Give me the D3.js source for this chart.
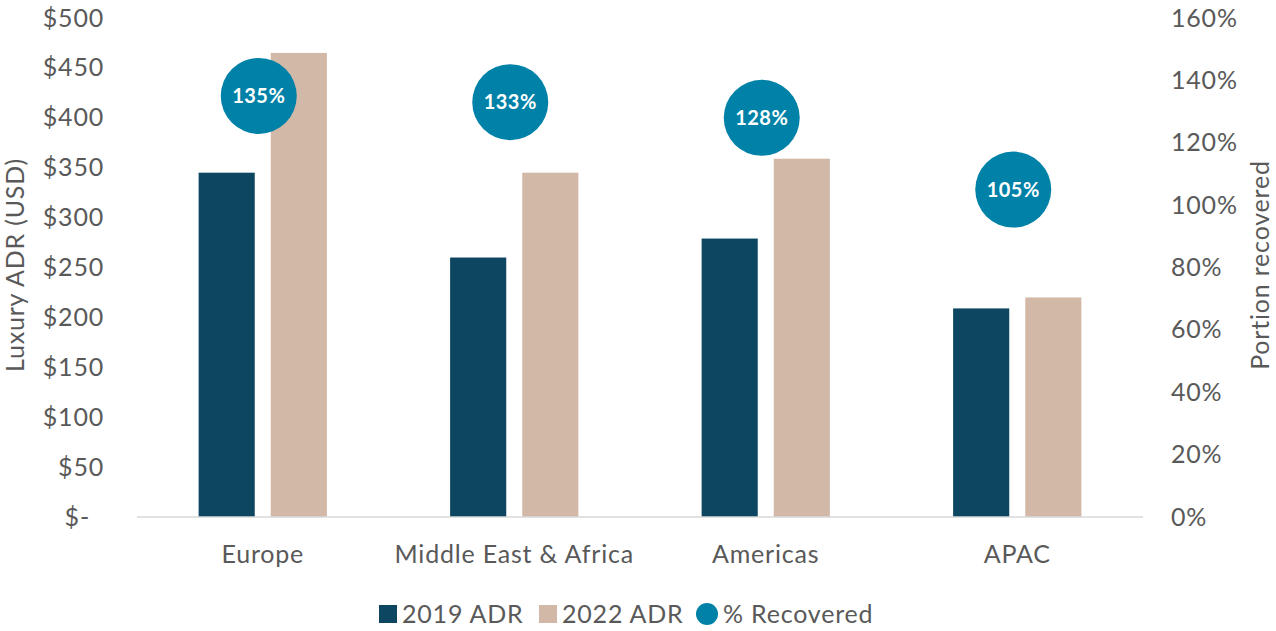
<!DOCTYPE html>
<html><head><meta charset="utf-8">
<script src="https://cdn.jsdelivr.net/npm/d3@7"></script>
<style>
body{margin:0;background:#fff;}
svg{display:block;font-family:"Source Sans Pro","Lato","Open Sans",sans-serif;}
.t{font-size:25px;letter-spacing:0.8px;fill:#595959;}
</style></head>
<body>
<svg id="chart" width="1276" height="631"></svg>
<script>
const categories = ["Europe", "Middle East & Africa", "Americas", "APAC"];
const series = ["2019 ADR", "2022 ADR"];
const adr2019 = [345, 260, 279, 209];
const adr2022 = [465, 345, 359, 220];
const recovered = [135, 133, 128, 105];
const leftTicks = [0, 50, 100, 150, 200, 250, 300, 350, 400, 450, 500];
const rightTicks = [0, 20, 40, 60, 80, 100, 120, 140, 160];
const colors = {"2019 ADR": "#0d4660", "2022 ADR": "#d2b8a7", rec: "#0081a7"};

(function () {
const svg = d3.select("#chart");
const pLeft = 137, pRight = 1143, pTop = 18, pBottom = 517;

const x0 = d3.scaleBand().domain(categories).range([pLeft, pRight]).paddingInner(0.49).paddingOuter(0.245);
const x1 = d3.scaleBand().domain(series).range([0, x0.bandwidth()]).paddingInner(0.222);
const yL = d3.scaleLinear().domain([0, 500]).range([pBottom, pTop]);
const yR = d3.scaleLinear().domain([0, 160]).range([pBottom, pTop]);

const rows = categories.map((c, i) => ({cat: c, vals: [
  {s: "2019 ADR", v: adr2019[i]}, {s: "2022 ADR", v: adr2022[i]}], rec: recovered[i]}));

// bars
const g = svg.append("g");
g.selectAll("g.cat").data(rows).join("g").attr("class", "cat")
  .attr("transform", d => `translate(${x0(d.cat)},0)`)
  .selectAll("rect").data(d => d.vals).join("rect")
  .attr("x", d => x1(d.s)).attr("width", x1.bandwidth())
  .attr("y", d => yL(d.v)).attr("height", d => yL(0) - yL(d.v))
  .attr("fill", d => colors[d.s]);

// baseline
svg.append("line").attr("x1", pLeft).attr("x2", pRight).attr("y1", pBottom).attr("y2", pBottom)
  .attr("stroke", "#d9d9d9").attr("stroke-width", 1.5);

// left axis
const fmtL = v => v === 0 ? "$-" : "$" + v;
const axL = svg.append("g").attr("transform", `translate(104,0)`)
  .call(d3.axisLeft(yL).tickValues(leftTicks).tickFormat(fmtL).tickSize(0).tickPadding(0));
axL.select(".domain").remove();
axL.attr("font-family", null).attr("font-size", null);
axL.selectAll("text").attr("class", "t").attr("fill", null);
axL.selectAll("g.tick").filter(d => d === 0).select("text").attr("dx", "-14");

// right axis
const axR = svg.append("g").attr("transform", `translate(1171,0)`)
  .call(d3.axisRight(yR).tickValues(rightTicks).tickFormat(v => v + "%").tickSize(0).tickPadding(0));
axR.select(".domain").remove();
axR.attr("font-family", null).attr("font-size", null);
axR.selectAll("text").attr("class", "t").attr("fill", null);

// category labels
svg.append("g").selectAll("text").data(categories).join("text").attr("class", "t")
  .attr("x", d => x0(d) + x0.bandwidth() / 2).attr("y", 563)
  .attr("text-anchor", "middle").text(d => d);

// axis titles
svg.append("text").attr("class", "t").attr("transform", "translate(24,265) rotate(-90)").attr("text-anchor", "middle")
  .text("Luxury ADR (USD)");
svg.append("text").attr("class", "t").attr("transform", "translate(1269,265) rotate(-90)").attr("text-anchor", "middle")
  .text("Portion recovered");

// recovered circles
const cg = svg.append("g").selectAll("g").data(rows).join("g")
  .attr("transform", d => `translate(${x0(d.cat) + x0.bandwidth() / 2 - 4},${yR(d.rec)})`);
cg.append("circle").attr("r", 38).attr("fill", colors.rec);
cg.append("text").attr("text-anchor", "middle").attr("dy", "0.36em").attr("fill", "#fff")
  .style("font-size", "20px").style("font-weight", "bold").style("letter-spacing", "0.5px").text(d => d.rec + "%");

// legend
const leg = svg.append("g");
const legItems = [
  {label: "2019 ADR", type: "rect", color: colors["2019 ADR"], x: 379},
  {label: "2022 ADR", type: "rect", color: colors["2022 ADR"], x: 539},
  {label: "% Recovered", type: "circle", color: colors.rec, x: 696}
];
legItems.forEach(it => {
  if (it.type === "rect") leg.append("rect").attr("x", it.x).attr("y", 605).attr("width", 18).attr("height", 18).attr("fill", it.color);
  else leg.append("circle").attr("cx", it.x + 11).attr("cy", 614).attr("r", 11).attr("fill", it.color);
  leg.append("text").attr("class", "t").attr("x", it.x + (it.type === "rect" ? 23 : 27)).attr("y", 614).attr("dy", "0.36em")
    .text(it.label);
});
})();
</script>
</body></html>
